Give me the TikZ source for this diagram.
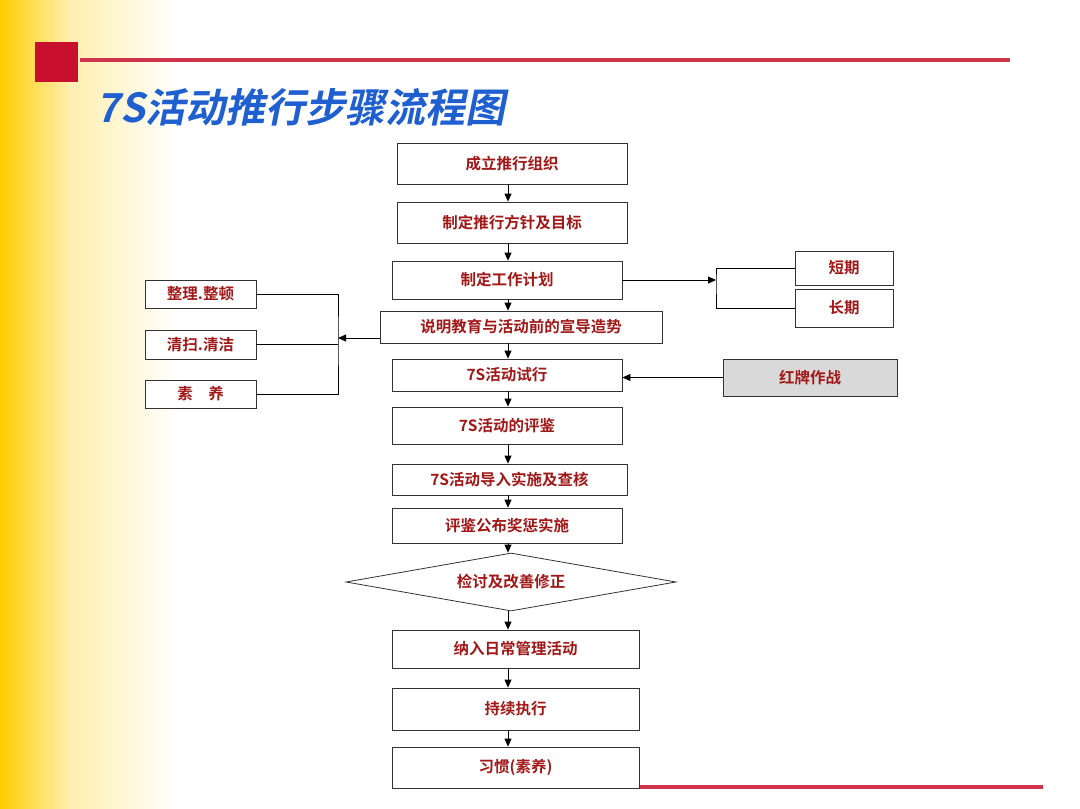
\documentclass[tikz,border=0pt]{standalone}
\usepackage{fontspec}
\newfontfamily\cjk{Noto Sans CJK SC}
\newfontfamily\cjkb{Noto Sans CJK SC Bold}
\usetikzlibrary{shapes.geometric,arrows.meta}
\definecolor{txtred}{HTML}{A01818}
\definecolor{barred}{HTML}{C8102E}
\definecolor{ttlblue}{HTML}{1F5FD0}
\definecolor{ylw}{HTML}{FFCC00}
\definecolor{ylwm}{HTML}{FFEFB0}
\begin{document}
\begin{tikzpicture}[x=1pt,y=-1pt,
  bx/.style={draw=black!80,line width=0.8pt,fill=white,font=\cjkb\fontsize{15.5}{15.5}\selectfont,text=txtred,inner sep=0pt},
  ar/.style={-{Triangle[length=8pt,width=7pt]},line width=0.8pt},
  ln/.style={line width=0.8pt}]
\useasboundingbox (0,0) rectangle (1080,809);
\fill[white] (0,0) rectangle (1080,809);
\shade[left color=ylw,right color=ylwm] (0,0) rectangle (70,809);
\shade[left color=ylwm,right color=white] (70,0) rectangle (180,809);
\fill[barred] (35,42) rectangle (78,82);
\fill[barred!85] (80,58) rectangle (1010,62);
\fill[barred!85] (640,785) rectangle (1043,789);
\node[anchor=west,text=ttlblue,font=\cjkb\fontsize{40}{40}\selectfont\addfontfeature{FakeSlant=0.2}] (title) at (93,107) {7S活动推行步骤流程图};
% main column
\node[bx,minimum width=230,minimum height=41] (b1) at (512,163.5) {成立推行组织};
\node[bx,minimum width=230,minimum height=41] (b2) at (512,222.5) {制定推行方针及目标};
\node[bx,minimum width=230,minimum height=38] (b3) at (507,280) {制定工作计划};
\node[bx,minimum width=282,minimum height=32] (b4) at (521,327) {说明教育与活动前的宣导造势};
\node[bx,minimum width=230,minimum height=32] (b5) at (507,375) {7S活动试行};
\node[bx,minimum width=230,minimum height=37] (b6) at (507,425.5) {7S活动的评鉴};
\node[bx,minimum width=235,minimum height=31] (b7) at (509.5,479.5) {7S活动导入实施及查核};
\node[bx,minimum width=230,minimum height=35] (b8) at (507,525.5) {评鉴公布奖惩实施};
\node[bx,diamond,aspect=5.7,minimum width=330,minimum height=58] (d) at (511,582) {检讨及改善修正};
\node[bx,minimum width=247,minimum height=38] (b9) at (515.5,649) {纳入日常管理活动};
\node[bx,minimum width=247,minimum height=42] (b10) at (515.5,709) {持续执行};
\node[bx,minimum width=247,minimum height=41] (b11) at (515.5,767.5) {习惯(素养)};
\foreach \a/\b in {b1/b2,b2/b3,b3/b4,b4/b5,b5/b6,b6/b7,b7/b8,b8/d,d/b9,b9/b10,b10/b11}
  \draw[ar] (\a.south -| 508,0) -- (\b.north -| 508,0);
% right side
\node[bx,minimum width=98,minimum height=34] (s) at (844,268) {短期};
\node[bx,minimum width=98,minimum height=38] (l) at (844,308) {长期};
\coordinate (br) at (716,280);
\draw[ar] (b3.east) -- (br);
\draw[ln] (s.west) -| (br) |- (l.west);
\node[bx,fill=black!15,minimum width=174,minimum height=37] (hp) at (810,377.5) {红牌作战};
\draw[ar] (hp.west) -- (b5.east |- hp.west);
% left side
\node[bx,minimum width=111,minimum height=28] (z1) at (200.5,294) {整理.整顿};
\node[bx,minimum width=111,minimum height=29] (z2) at (200.5,344.5) {清扫.清洁};
\node[bx,minimum width=111,minimum height=28] (z3) at (200.5,394) {素\quad 养};
\coordinate (lb) at (338,338);
\draw[ar] (b4.west |- lb) -- (lb);
\draw[ln] (z1.east) -| (lb) |- (z3.east);
\draw[ln] (z2.east) -- (z2.east -| lb);
\end{tikzpicture}
\end{document}
